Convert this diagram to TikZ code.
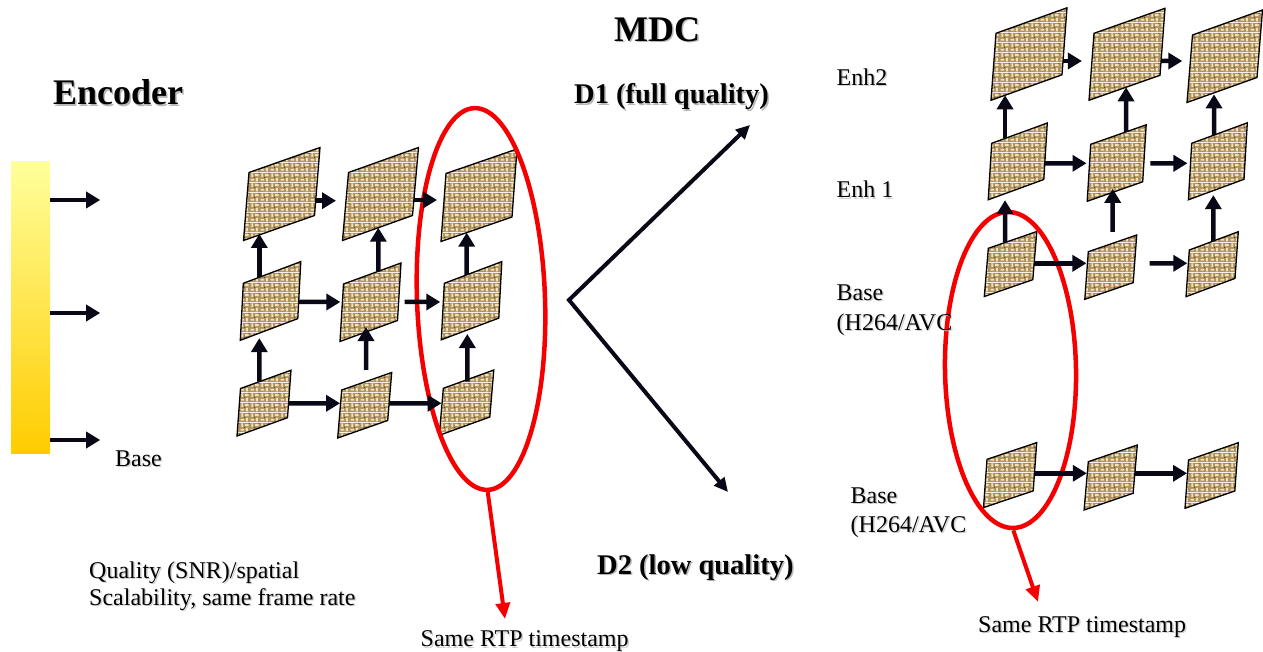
\documentclass[tikz,border=0pt]{standalone}
\usepackage{fontspec}
\setmainfont{Liberation Serif}
\usetikzlibrary{arrows.meta,calc,shapes.geometric,patterns.meta}

\definecolor{wbase}{RGB}{176,146,98}
\definecolor{wlight}{RGB}{238,226,182}
\definecolor{wdark}{RGB}{92,66,34}
\definecolor{arrcol}{RGB}{8,8,22}
\definecolor{mark}{RGB}{245,0,0}

% woven texture used for the picture frames
\pgfdeclarepattern{
  name=weave,
  type=colored,
  bottom left={\pgfpoint{0pt}{0pt}},
  top right={\pgfpoint{10pt}{10pt}},
  tile size={\pgfpoint{10pt}{10pt}},
  code={
    \pgfsetfillcolor{wbase}
    \pgfpathrectangle{\pgfpoint{0pt}{0pt}}{\pgfpoint{10pt}{10pt}}
    \pgfusepath{fill}
    \pgfsetstrokecolor{wlight}
    \pgfsetlinewidth{2pt}
    \pgfpathmoveto{\pgfpoint{0.6pt}{2.5pt}}\pgfpathlineto{\pgfpoint{4.4pt}{2.5pt}}
    \pgfpathmoveto{\pgfpoint{5.6pt}{7.5pt}}\pgfpathlineto{\pgfpoint{9.4pt}{7.5pt}}
    \pgfpathmoveto{\pgfpoint{7.5pt}{0.6pt}}\pgfpathlineto{\pgfpoint{7.5pt}{4.4pt}}
    \pgfpathmoveto{\pgfpoint{2.5pt}{5.6pt}}\pgfpathlineto{\pgfpoint{2.5pt}{9.4pt}}
    \pgfusepath{stroke}
    \pgfsetfillcolor{wdark}
    \pgfpathrectangle{\pgfpoint{4.4pt}{4.4pt}}{\pgfpoint{1.2pt}{1.2pt}}
    \pgfpathrectangle{\pgfpoint{9.2pt}{9.2pt}}{\pgfpoint{0.8pt}{0.8pt}}
    \pgfusepath{fill}
  }
}

\tikzset{
  vfr/.style={draw=black, line width=1.3pt, line join=miter, pattern=weave},
  arr/.style={draw=arrcol, line width=4.5pt, -{Triangle[length=14pt,width=16pt]}},
  splitarr/.style={draw=arrcol, line width=4pt,
    {Triangle[length=14pt,width=13pt]}-{Triangle[length=14pt,width=13pt]}},
  redell/.style={draw=mark, line width=4.5pt, ellipse, inner sep=0pt},
  redarr/.style={draw=mark, line width=4pt, -{Triangle[length=16pt,width=14pt]}},
  title/.style={font=\fontsize{36}{40}\selectfont\bfseries, inner sep=0pt},
  dtitle/.style={font=\fontsize{28.5}{33}\selectfont\bfseries, inner sep=0pt},
  lbl/.style={font=\fontsize{24}{29}\selectfont, inner sep=0pt},
}

% frame: name, top-left x, top-left y, width, rise, lean, height
\newcommand\vframe[7]{%
  \path (#2,#3) coordinate (#1tl) ++(#4,-#5) coordinate (#1tr)
        ++(-#6,#7) coordinate (#1br) ++(-#4,#5) coordinate (#1bl);
  \draw[vfr] (#1tl) -- (#1tr) -- (#1br) -- (#1bl) -- cycle;}

% horizontal arrow: from, to, y, shorten start, shorten end
\newcommand\harr[5]{%
  \draw[arr, shorten <=#4pt, shorten >=#5pt]
    (intersection of #1tr--#1br and 0,#3--1,#3) --
    (intersection of #2tl--#2bl and 0,#3--1,#3);}

% vertical arrow: from (lower), to (upper), x, shorten start, shorten end
\newcommand\varr[5]{%
  \draw[arr, shorten <=#4pt, shorten >=#5pt]
    (intersection of #1tl--#1tr and #3,0--#3,1) --
    (intersection of #2bl--#2br and #3,0--#3,1);}

% text with a soft drop shadow: name, base point, style, shadow colour, text
\newcommand\stext[5]{%
  \node[#3, text=#4, anchor=base west] at ($(#2)+(1.5,1.5)$) {#5};
  \node[#3, anchor=base west] (#1) at (#2) {#5};}

\begin{document}
\begin{tikzpicture}[x=1pt,y=-1pt]
\useasboundingbox (0,0) rectangle (1263,652);

% ---------- layer bar ----------
\node[minimum width=39pt, minimum height=291pt, inner sep=0pt,
      top color={rgb,255:red,255;green,255;blue,155},
      bottom color={rgb,255:red,255;green,204;blue,0}] (bar) at (30.5,307.5) {};
\draw[arr] (bar.east |- 0,200) -- ++(50,0);
\draw[arr] (bar.east |- 0,313) -- ++(50,0);
\draw[arr] (bar.east |- 0,440) -- ++(50,0);

% ---------- encoder grid ----------
\vframe{et1}{249}{172.5}{71}{25}{5.5}{68}
\vframe{et2}{348.5}{172.5}{70}{25}{6}{68}
\vframe{et3}{446}{173.5}{71}{24.5}{5}{68}
\vframe{em1}{243.3}{283.3}{57.5}{21.7}{3}{57}
\vframe{em2}{343.5}{284}{57.5}{21}{3.5}{57.5}
\vframe{em3}{444.3}{283.3}{57.5}{21.7}{3}{56.5}
\vframe{eb1}{240.5}{388.5}{50.5}{18.3}{3.5}{47.5}
\vframe{eb2}{341.7}{390}{50}{17.5}{4}{48}
\vframe{eb3}{443.3}{388.3}{50.5}{18.3}{4}{47}

% ---------- scalable stream grid ----------
\vframe{rt1}{996}{33.3}{71}{25.5}{5}{67}
\vframe{rt2}{1094}{33.3}{71}{25}{5}{67}
\vframe{rt3}{1192.5}{35}{70}{25}{5.5}{67.5}
\vframe{rm1}{991.7}{143.3}{55.6}{20.3}{3.5}{56.5}
\vframe{rm2}{1090.7}{144.3}{55.5}{19.5}{3.5}{57}
\vframe{rm3}{1191.7}{143.3}{55.6}{20.5}{3.3}{56.5}
\vframe{rb1}{988.3}{248.3}{48.5}{16.8}{4}{48.2}
\vframe{rb2}{1088.3}{251.7}{48.4}{16.7}{3.5}{47.6}
\vframe{rb3}{1189.3}{250}{49}{18.3}{3.3}{46.7}
\vframe{rl1}{987}{459.3}{49.7}{16.7}{3.5}{48.3}
\vframe{rl2}{1088.3}{461.7}{49}{16.7}{4.2}{48.3}
\vframe{rl3}{1188.5}{460}{49.8}{17.3}{3.5}{48.3}

% ---------- timestamp groups ----------
\node[redell, minimum width=128pt, minimum height=382pt, rotate=2] (ellL) at (481,299) {};
\node[redell, minimum width=131pt, minimum height=316pt, rotate=1] (ellR) at (1010.5,370) {};
\coordinate (tsL) at (505,619);
\coordinate (tsR) at (1038,602);
\draw[redarr] (ellL.south) -- (tsL);
\draw[redarr] (ellR.south) -- (tsR);

% ---------- encoder grid arrows ----------
\harr{et1}{et2}{200.7}{0}{10}
\harr{et2}{et3}{200}{0}{7}
\harr{em1}{em2}{302}{0}{2}
\harr{em2}{em3}{302}{6}{3}
\harr{eb1}{eb2}{403.3}{0}{0.5}
\harr{eb2}{eb3}{403.3}{0}{0.5}
\varr{eb1}{em1}{259.3}{0}{5}
\varr{eb2}{em2}{366}{11.6}{-5}
\varr{eb3}{em3}{467.3}{-2}{4}
\varr{em1}{et1}{259.3}{0}{-1}
\varr{em2}{et2}{378.3}{0}{0}
\varr{em3}{et3}{466.7}{0}{0}

% ---------- stream grid arrows ----------
\harr{rt1}{rt2}{61}{0}{10}
\harr{rt2}{rt3}{61}{0}{8}
\harr{rm1}{rm2}{163.3}{0}{3}
\harr{rm2}{rm3}{163.3}{6.5}{3}
\harr{rb1}{rb2}{263.3}{0}{1}
\harr{rb2}{rb3}{263.3}{15}{1}
\harr{rl1}{rl2}{473.3}{0}{0.5}
\harr{rl2}{rl3}{473.3}{0}{0.5}
\varr{rm1}{rt1}{1005}{0}{0}
\varr{rb1}{rm1}{1005}{0}{6.5}
\varr{rm2}{rt2}{1126}{0}{0}
\varr{rb2}{rm2}{1112.7}{11.5}{-3.5}
\varr{rm3}{rt3}{1214}{0}{1.5}
\varr{rb3}{rm3}{1213.3}{0}{4.5}

% ---------- MDC split ----------
\coordinate (split) at (569,300);
\coordinate (d1end) at (750,125);
\coordinate (d2end) at (728,492);
\draw[splitarr] (d1end) -- (split) -- (d2end);

% ---------- texts ----------
\stext{enc}{53,105}{title}{black!28}{Encoder}
\stext{mdc}{614,41.5}{title}{black!28}{MDC}
\stext{d1}{574,104}{dtitle}{black!28}{D1 (full quality)}
\stext{d2}{597,574}{dtitle}{black!28}{D2 (low quality)}
\stext{enh2}{836.5,85.5}{lbl}{black!18}{Enh2}
\stext{enh1}{836.5,198}{lbl}{black!18}{Enh 1}
\stext{baseA}{836.5,300}{lbl}{black!18}{Base}
\stext{avcA}{836.5,330}{lbl}{black!18}{(H264/AVC}
\stext{baseB}{850.5,503}{lbl}{black!18}{Base}
\stext{avcB}{850.5,532}{lbl}{black!18}{(H264/AVC}
\stext{baseL}{115,466}{lbl}{black!18}{Base}
\stext{qual}{89,578}{lbl}{black!18}{Quality (SNR)/spatial}
\stext{scal}{89,605}{lbl}{black!18}{Scalability, same frame rate}
\stext{rtpL}{420.5,646.5}{lbl}{black!18}{Same RTP timestamp}
\stext{rtpR}{978,632}{lbl}{black!18}{Same RTP timestamp}
\end{tikzpicture}
\end{document}
